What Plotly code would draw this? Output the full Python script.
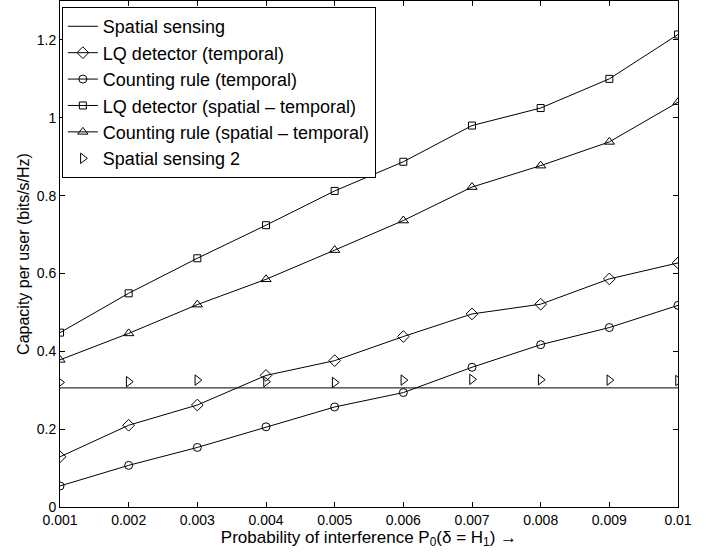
import plotly.graph_objects as go

x = [0.001, 0.002, 0.003, 0.004, 0.005, 0.006, 0.007, 0.008, 0.009, 0.010]

spatial_sensing = [0.306] * 10
lq_temporal = [0.129, 0.210, 0.262, 0.338, 0.376, 0.438, 0.496, 0.521, 0.586, 0.627]
count_temporal = [0.054, 0.107, 0.153, 0.206, 0.257, 0.294, 0.359, 0.417, 0.461, 0.518]
lq_spatial_temporal = [0.448, 0.549, 0.639, 0.724, 0.812, 0.887, 0.980, 1.025, 1.100, 1.214]
count_spatial_temporal = [0.378, 0.446, 0.520, 0.585, 0.660, 0.736, 0.822, 0.877, 0.938, 1.040]
spatial_sensing_2 = [0.320, 0.322, 0.326, 0.322, 0.320, 0.326, 0.328, 0.327, 0.326, 0.325]

names = ["Spatial sensing", "LQ detector (temporal)", "Counting rule (temporal)",
         "LQ detector (spatial \u2013 temporal)", "Counting rule (spatial \u2013 temporal)",
         "Spatial sensing 2"]

x_ticks = [0.001, 0.002, 0.003, 0.004, 0.005, 0.006, 0.007, 0.008, 0.009, 0.01]
x_tick_labels = ["0.001", "0.002", "0.003", "0.004", "0.005", "0.006", "0.007", "0.008", "0.009", "0.01"]
y_ticks = [0, 0.2, 0.4, 0.6, 0.8, 1.0, 1.2]
y_tick_labels = ["0", "0.2", "0.4", "0.6", "0.8", "1", "1.2"]

fig = go.Figure()
lw = 1
fig.add_trace(go.Scatter(x=x, y=spatial_sensing, mode="lines", name=names[0],
                         line=dict(color="black", width=lw)))
fig.add_trace(go.Scatter(x=x, y=lq_temporal, mode="lines+markers", name=names[1],
                         line=dict(color="black", width=lw),
                         marker=dict(symbol="diamond-open", size=9, color="black", line=dict(width=1))))
fig.add_trace(go.Scatter(x=x, y=count_temporal, mode="lines+markers", name=names[2],
                         line=dict(color="black", width=lw),
                         marker=dict(symbol="circle-open", size=8, color="black", line=dict(width=1))))
fig.add_trace(go.Scatter(x=x, y=lq_spatial_temporal, mode="lines+markers", name=names[3],
                         line=dict(color="black", width=lw),
                         marker=dict(symbol="square-open", size=7, color="black", line=dict(width=1))))
fig.add_trace(go.Scatter(x=x, y=count_spatial_temporal, mode="lines+markers", name=names[4],
                         line=dict(color="black", width=lw),
                         marker=dict(symbol="triangle-up-open", size=9, color="black", line=dict(width=1))))
fig.add_trace(go.Scatter(x=x, y=spatial_sensing_2, mode="markers", name=names[5],
                         marker=dict(symbol="triangle-right-open", size=9, color="black", line=dict(width=1))))

font_family = "Liberation Sans, Arial, sans-serif"
fig.update_layout(
    width=716, height=552,
    margin=dict(l=60, r=38, t=1, b=45),
    paper_bgcolor="white", plot_bgcolor="white",
    font=dict(family=font_family, color="black", size=14),
    showlegend=True,
    legend=dict(x=0.003, y=0.988, xanchor="left", yanchor="top",
                bordercolor="black", borderwidth=1, bgcolor="white",
                font=dict(family=font_family, size=18, color="black"),
                tracegroupgap=0, itemwidth=30,
                entrywidth=290, entrywidthmode="pixels"),
    xaxis=dict(range=[0.001, 0.01], tickmode="array", tickvals=x_ticks, ticktext=x_tick_labels,
               ticks="inside", ticklen=5, tickcolor="black", mirror="ticks",
               showline=True, linecolor="black", linewidth=1, showgrid=False, zeroline=False,
               tickfont=dict(size=14),
               title=dict(text="Probability of interference P<sub>0</sub>(\u03b4 = H<sub>1</sub>) \u2192",
                          font=dict(size=17), standoff=0)),
    yaxis=dict(range=[0, 1.3], tickmode="array", tickvals=y_ticks, ticktext=y_tick_labels,
               ticks="inside", ticklen=5, tickcolor="black", mirror="ticks",
               showline=True, linecolor="black", linewidth=1, showgrid=False, zeroline=False,
               tickfont=dict(size=14),
               title=dict(text="Capacity per user (bits/s/Hz)", font=dict(size=16), standoff=3)),
)

fig.write_html("out.html")
